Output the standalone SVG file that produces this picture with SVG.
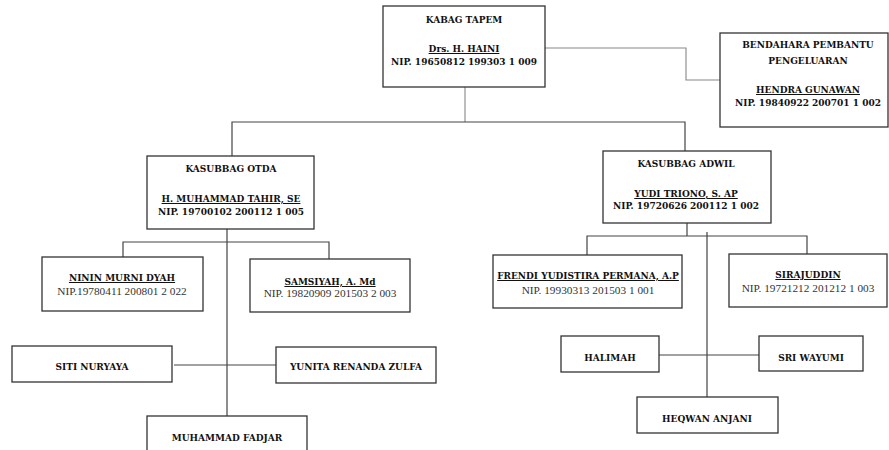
<svg xmlns="http://www.w3.org/2000/svg" width="889" height="450" viewBox="0 0 889 450">
<style>
.box{fill:#fff;stroke:#333;stroke-width:1.3}
.b{font-family:"DejaVu Serif Condensed","DejaVu Serif",serif;font-stretch:condensed;font-weight:bold;font-size:10px;fill:#111;text-anchor:middle}
.u{text-decoration:underline}
.r{font-family:"Liberation Serif",serif;font-size:11.3px;fill:#333;text-anchor:middle}
.c{fill:none;stroke:#444;stroke-width:1.2}
.g{fill:none;stroke:#888;stroke-width:1.1}
</style>
<rect width="889" height="450" fill="#fff"/>
<g id="connectors">
<path class="g" d="M545,48 H686 V80 H720"/>
<path class="g" d="M465,87 V122"/>
<path class="c" d="M232,156 V122 H685 V151"/>
<path class="c" d="M227,229 V416 M123,257 V242 H329 V259 M174,365 H276"/>
<path class="c" d="M687,223 V236 M587,255 V236 H807 V254 M707,232 V397 M659,355 H759"/>
</g>
<g id="kabag">
<rect class="box" x="383" y="6" width="162" height="81"/>
<text class="b" x="464" y="23">KABAG TAPEM</text>
<text class="b u" x="464" y="52">Drs. H. HAINI</text>
<text class="b" x="464" y="65">NIP. 19650812 199303 1 009</text>
</g>
<g id="bendahara">
<rect class="box" x="720" y="33" width="168" height="94"/>
<text class="b" x="808" y="48">BENDAHARA PEMBANTU</text>
<text class="b" x="808" y="64">PENGELUARAN</text>
<text class="b u" x="808" y="93">HENDRA GUNAWAN</text>
<text class="b" x="808" y="106">NIP. 19840922 200701 1 002</text>
</g>
<g id="otda">
<rect class="box" x="147" y="156" width="167" height="73"/>
<text class="b" x="231" y="172">KASUBBAG OTDA</text>
<text class="b u" x="231" y="202">H. MUHAMMAD TAHIR, SE</text>
<text class="b" x="231" y="215">NIP. 19700102 200112 1 005</text>
</g>
<g id="adwil">
<rect class="box" x="603" y="151" width="168" height="72"/>
<text class="b" x="686" y="167">KASUBBAG ADWIL</text>
<text class="b u" x="686" y="197">YUDI TRIONO, S. AP</text>
<text class="b" x="686" y="209">NIP. 19720626 200112 1 002</text>
</g>
<g id="ninin">
<rect class="box" x="42" y="257" width="161" height="54"/>
<text class="b u" x="122" y="281">NININ MURNI DYAH</text>
<text class="r" x="122" y="295">NIP.19780411 200801 2 022</text>
</g>
<g id="samsiyah">
<rect class="box" x="250" y="259" width="160" height="53"/>
<text class="b u" x="330" y="285">SAMSIYAH, A. Md</text>
<text class="r" x="330" y="297">NIP. 19820909 201503 2 003</text>
</g>
<g id="siti">
<rect class="box" x="12" y="346" width="160" height="36"/>
<text class="b" x="92" y="370">SITI NURYAYA</text>
</g>
<g id="yunita">
<rect class="box" x="276" y="347" width="160" height="36"/>
<text class="b" x="356" y="370">YUNITA RENANDA ZULFA</text>
</g>
<g id="fadjar">
<rect class="box" x="147" y="416" width="160" height="40"/>
<text class="b" x="227" y="441">MUHAMMAD FADJAR</text>
</g>
<g id="frendi">
<rect class="box" x="493" y="255" width="189" height="53"/>
<text class="b u" x="588" y="279">FRENDI YUDISTIRA PERMANA, A.P</text>
<text class="r" x="588" y="294">NIP. 19930313 201503 1 001</text>
</g>
<g id="sirajuddin">
<rect class="box" x="729" y="254" width="158" height="53"/>
<text class="b u" x="808" y="278">SIRAJUDDIN</text>
<text class="r" x="808" y="292">NIP. 19721212 201212 1 003</text>
</g>
<g id="halimah">
<rect class="box" x="561" y="336" width="98" height="36"/>
<text class="b" x="610" y="361">HALIMAH</text>
</g>
<g id="sri">
<rect class="box" x="759" y="336" width="104" height="35"/>
<text class="b" x="811" y="361">SRI WAYUMI</text>
</g>
<g id="heqwan">
<rect class="box" x="637" y="397" width="141" height="36"/>
<text class="b" x="707" y="422">HEQWAN ANJANI</text>
</g>
</svg>
